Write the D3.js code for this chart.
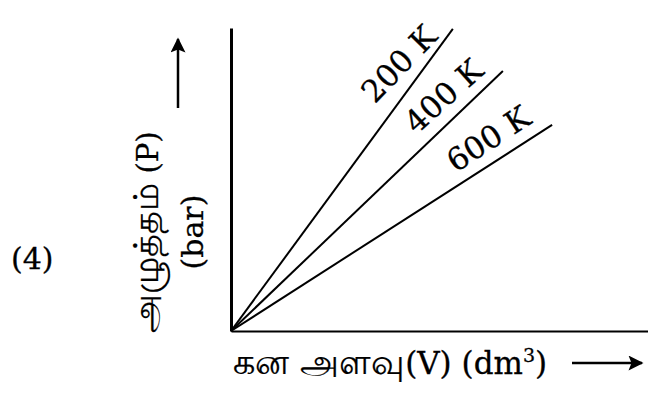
<!DOCTYPE html>
<html>
<head>
<meta charset="utf-8">
<script src="https://cdn.jsdelivr.net/npm/d3@7"></script>
<style>
  body { margin: 0; background: #fff; }
  text { font-family: "DejaVu Serif", "Liberation Serif", serif; fill: #000; stroke: #000; stroke-width: 0.3px; }
</style>
</head>
<body>
<svg id="chart" width="648" height="395"></svg>
<script>
// isotherm lines: P vs V at fixed T
var temps = ["200 K", "400 K", "600 K"];
var volEnd = [5.32, 6.52, 7.70];     // V at end of each line
var presEnd = [9.97, 8.58, 6.80];    // P at end of each line
var labelAngle = [-46, -42, -33];

var xLabelTa = "கன அளவு";
var xLabelEn = "(V) (dm";
var yLabelTa = "அழுத்தம்";
var yLabelEn = " (P)";
var yLabel2 = "(bar)";
var panelTag = "(4)";

var svg = d3.select("#chart");

var x = d3.scaleLinear().domain([0, 10]).range([231, 648]);
var y = d3.scaleLinear().domain([0, 10]).range([331, 28]);

// arrowhead for the direction arrows
svg.append("defs").append("marker")
	.attr("id", "head")
	.attr("viewBox", "0 0 10 10")
	.attr("refX", 9).attr("refY", 5)
	.attr("markerUnits", "userSpaceOnUse")
	.attr("markerWidth", 17).attr("markerHeight", 15)
	.attr("orient", "auto")
	.append("path").attr("d", "M0,0 L10,5 L0,10 L2,5 Z").attr("fill", "#000");

// axes, no ticks
var ax = svg.append("g").attr("transform", "translate(0," + y(0) + ")")
	.call(d3.axisBottom(x).ticks(0).tickSizeOuter(0));
ax.select(".domain").attr("stroke-width", 2.2);
var ay = svg.append("g").attr("transform", "translate(" + x(0) + ",0)")
	.call(d3.axisLeft(y).ticks(0).tickSizeOuter(0));
ay.select(".domain").attr("stroke-width", 3);

var line = d3.line().x(function(d){ return x(d[0]); }).y(function(d){ return y(d[1]); });

temps.forEach(function(t, i){
	var pts = [[0, 0], [volEnd[i], presEnd[i]]];
	svg.append("path")
		.attr("d", line(pts))
		.attr("fill", "none")
		.attr("stroke", "#000")
		.attr("stroke-width", 2);

	// label sits above the line, near its end
	var x0 = x(0), y0 = y(0), x1 = x(volEnd[i]), y1 = y(presEnd[i]);
	var len = Math.sqrt((x1-x0)*(x1-x0) + (y1-y0)*(y1-y0));
	var ux = (x1-x0)/len, uy = (y1-y0)/len;
	var f = 0.84, off = 23;
	var cx = x0 + ux*len*f + uy*off;
	var cy = y0 + uy*len*f - ux*off;
	svg.append("text")
		.attr("transform", "translate(" + cx + "," + cy + ") rotate(" + labelAngle[i] + ")")
		.attr("text-anchor", "middle")
		.attr("dominant-baseline", "central")
		.attr("font-size", 31)
		.text(t);
});

// panel number
svg.append("text").attr("x", 11).attr("y", 269).attr("font-size", 30).text(panelTag);

// y label (two rotated lines) and arrow
var yl = svg.append("text")
	.attr("transform", "translate(158,232) rotate(-90)")
	.attr("text-anchor", "middle").attr("font-size", 29);
yl.append("tspan").attr("font-size", 35).style("stroke-width", "0.2px").text(yLabelTa);
yl.append("tspan").text(yLabelEn);
svg.append("text")
	.attr("transform", "translate(203,232) rotate(-90)")
	.attr("text-anchor", "middle").attr("font-size", 30)
	.text(yLabel2);
svg.append("line")
	.attr("x1", 178).attr("y1", 108).attr("x2", 178).attr("y2", 39)
	.attr("stroke", "#000").attr("stroke-width", 2.5)
	.attr("marker-end", "url(#head)");

// x label and arrow
var xl = svg.append("text").attr("x", 233).attr("y", 374).attr("font-size", 31);
xl.append("tspan").attr("font-size", 35).style("stroke-width", "0.2px").text(xLabelTa);
xl.append("tspan").text(xLabelEn);
xl.append("tspan").attr("font-size", 19).attr("dy", -12).text("3");
xl.append("tspan").attr("dy", 12).text(")");
svg.append("line")
	.attr("x1", 572).attr("y1", 363).attr("x2", 642).attr("y2", 363)
	.attr("stroke", "#000").attr("stroke-width", 2.5)
	.attr("marker-end", "url(#head)");
</script>
</body>
</html>
